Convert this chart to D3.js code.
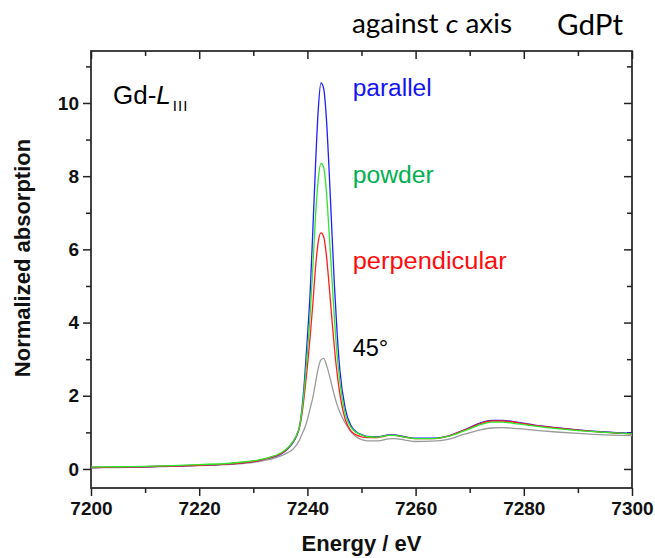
<!DOCTYPE html>
<html lang="en">
<head>
<meta charset="UTF-8">
<title>GdPt Gd-LIII XANES</title>
<script src="https://d3js.org/d3.v7.min.js"></script>
<style>
  body { margin: 0; background: #fff; }
  svg { display: block; }
  text { font-family: "Liberation Sans", Arial, sans-serif; }
  .tick text { font-weight: bold; font-size: 19px; fill: #111; }
</style>
</head>
<body>
<svg id="chart" width="655" height="558"></svg>
<script>
const energy = [7200, 7205, 7210, 7215, 7220, 7225, 7228, 7231, 7233, 7235,
  7236, 7237, 7238, 7238.5, 7239, 7239.5, 7240, 7240.5, 7241, 7241.5,
  7242, 7242.5, 7243, 7243.5, 7244, 7244.5, 7245, 7245.5, 7246, 7247,
  7248, 7249, 7250, 7251, 7253, 7255, 7256, 7258, 7260, 7263,
  7266, 7269, 7272, 7274, 7276, 7279, 7282, 7286, 7290, 7295, 7300];

const parallel = [0.04, 0.05, 0.06, 0.08, 0.10, 0.13, 0.17, 0.23, 0.30, 0.40,
  0.50, 0.65, 0.90, 1.12, 1.65, 2.5, 3.6, 4.8, 6.5, 8.3,
  9.8, 10.55, 10.4, 9.6, 8.2, 6.6, 5.0, 3.7, 2.7, 1.65,
  1.2, 1.02, 0.94, 0.89, 0.88, 0.93, 0.93, 0.88, 0.84, 0.84,
  0.9, 1.07, 1.26, 1.33, 1.33, 1.27, 1.2, 1.13, 1.07, 1.01, 0.97];

const powder = [0.05, 0.06, 0.07, 0.09, 0.12, 0.15, 0.19, 0.25, 0.32, 0.43,
  0.53, 0.68, 0.93, 1.13, 1.6, 2.3, 3.2, 4.2, 5.5, 6.9,
  7.9, 8.35, 8.25, 7.6, 6.5, 5.3, 4.1, 3.1, 2.4, 1.5,
  1.15, 1.0, 0.93, 0.88, 0.87, 0.92, 0.92, 0.87, 0.83, 0.83,
  0.89, 1.04, 1.21, 1.28, 1.28, 1.23, 1.17, 1.1, 1.05, 1.0, 0.96];

const perpendicular = [0.04, 0.05, 0.06, 0.08, 0.10, 0.13, 0.17, 0.23, 0.30, 0.41,
  0.51, 0.67, 0.92, 1.12, 1.5, 2.1, 2.8, 3.6, 4.5, 5.5,
  6.2, 6.45, 6.35, 5.85, 5.05, 4.15, 3.3, 2.6, 2.05, 1.35,
  1.05, 0.93, 0.88, 0.86, 0.86, 0.92, 0.92, 0.87, 0.83, 0.83,
  0.9, 1.06, 1.24, 1.31, 1.31, 1.26, 1.19, 1.12, 1.06, 1.0, 0.96];

const deg45 = [0.03, 0.04, 0.05, 0.07, 0.09, 0.12, 0.15, 0.2, 0.26, 0.35,
  0.42, 0.5, 0.66, 0.78, 0.95, 1.12, 1.35, 1.65, 1.95, 2.35,
  2.75, 2.98, 3.02, 2.85, 2.6, 2.3, 2.0, 1.75, 1.55, 1.25,
  1.03, 0.88, 0.8, 0.77, 0.77, 0.82, 0.83, 0.79, 0.75, 0.76,
  0.81, 0.95, 1.07, 1.12, 1.13, 1.1, 1.06, 1.01, 0.97, 0.93, 0.91];

const series = [
  { name: "45°", values: deg45, line: "#9a9a9a", text: "#000" },
  { name: "parallel", values: parallel, line: "#1f1fff", text: "#1414f5" },
  { name: "perpendicular", values: perpendicular, line: "#ff1f1f", text: "#ff0d0d" },
  { name: "powder", values: powder, line: "#2ee62e", text: "#00b050" }
];

const xMajor = [7200, 7220, 7240, 7260, 7280, 7300];
const xMinor = [7210, 7230, 7250, 7270, 7290];
const yMajor = [0, 2, 4, 6, 8, 10];
const yMinor = [1, 3, 5, 7, 9, 11];

const plotL = 91, plotR = 632, plotT = 51, plotB = 488;
const svg = d3.select("#chart");

const x = d3.scaleLinear().domain([7200, 7300]).range([plotL, plotR]);
const y = d3.scaleLinear().domain([-0.52, 11.42]).range([plotB, plotT]);

// axes: outward ticks on bottom/left, inward on top/right
function minorAxis(axis, vals) {
  return axis.tickValues(vals).tickSize(5).tickFormat("");
}
svg.append("g").attr("transform", `translate(0,${plotB})`)
  .call(d3.axisBottom(x).tickValues(xMajor).tickSize(8).tickPadding(6).tickFormat(d3.format("d")));
svg.append("g").attr("transform", `translate(0,${plotB})`)
  .call(minorAxis(d3.axisBottom(x), xMinor));
svg.append("g").attr("transform", `translate(0,${plotT})`)
  .call(d3.axisBottom(x).tickValues(xMajor).tickSize(8).tickFormat(""));
svg.append("g").attr("transform", `translate(0,${plotT})`)
  .call(minorAxis(d3.axisBottom(x), xMinor));
svg.append("g").attr("transform", `translate(${plotL},0)`)
  .call(d3.axisLeft(y).tickValues(yMajor).tickSize(8).tickPadding(4).tickFormat(d3.format("d")));
svg.append("g").attr("transform", `translate(${plotL},0)`)
  .call(minorAxis(d3.axisLeft(y), yMinor));
svg.append("g").attr("transform", `translate(${plotR},0)`)
  .call(d3.axisLeft(y).tickValues(yMajor).tickSize(8).tickFormat(""));
svg.append("g").attr("transform", `translate(${plotR},0)`)
  .call(minorAxis(d3.axisLeft(y), yMinor));

svg.selectAll(".domain").remove();
svg.selectAll(".tick line").attr("stroke", "#222").attr("stroke-width", 1.5);

svg.append("rect")
  .attr("x", plotL).attr("y", plotT)
  .attr("width", plotR - plotL).attr("height", plotB - plotT)
  .attr("fill", "none").attr("stroke", "#222").attr("stroke-width", 1.7);

// curves
const line = d3.line()
  .x((d, i) => x(energy[i]))
  .y(d => y(d))
  .curve(d3.curveMonotoneX);

svg.append("g").selectAll("path")
  .data(series)
  .join("path")
  .attr("d", d => line(d.values))
  .attr("fill", "none")
  .attr("stroke", d => d.line)
  .attr("stroke-width", 1.3);

// curve labels
const labelY = { "parallel": 96, "powder": 182.7, "perpendicular": 269.3, "45°": 356 };
const labelW = { "parallel": 79, "powder": 81, "perpendicular": 154, "45°": 35.6 };
svg.append("g").selectAll("text")
  .data(series)
  .join("text")
  .attr("x", 352.7)
  .attr("y", d => labelY[d.name])
  .attr("textLength", d => labelW[d.name])
  .attr("lengthAdjust", "spacingAndGlyphs")
  .style("font-size", "23px")
  .attr("fill", d => d.text)
  .text(d => d.name);

// edge label Gd-L_III
const edge = svg.append("text").attr("x", 113).attr("y", 104)
  .style("font-size", "26px").attr("fill", "#000");
edge.append("tspan").text("Gd-");
edge.append("tspan").style("font-style", "italic").text("L");
edge.append("tspan").attr("dx", 2).attr("dy", 6.5)
  .style("font-size", "15px").style("letter-spacing", "1px").text("III");

// header texts
const header = svg.append("text").attr("x", 352).attr("y", 33)
  .attr("textLength", 160).attr("lengthAdjust", "spacingAndGlyphs")
  .style("font-family", "Lato, 'Open Sans', sans-serif").style("font-size", "26px").attr("fill", "#000");
header.append("tspan").text("against ");
header.append("tspan").style("font-style", "italic").text("c");
header.append("tspan").text(" axis");
svg.append("text").attr("x", 557).attr("y", 35)
  .attr("textLength", 66).attr("lengthAdjust", "spacingAndGlyphs")
  .style("font-family", "Lato, 'Open Sans', sans-serif").style("font-size", "29px").attr("fill", "#000")
  .text("GdPt");

// axis titles
svg.append("text")
  .attr("x", (plotL + plotR) / 2).attr("y", 551)
  .attr("text-anchor", "middle")
  .style("font-size", "22px").style("font-weight", "bold").attr("fill", "#111")
  .text("Energy / eV");
svg.append("text")
  .attr("transform", "translate(30,258) rotate(-90)")
  .attr("text-anchor", "middle")
  .style("font-size", "22px").style("font-weight", "bold").attr("fill", "#111")
  .text("Normalized absorption");
</script>
</body>
</html>
